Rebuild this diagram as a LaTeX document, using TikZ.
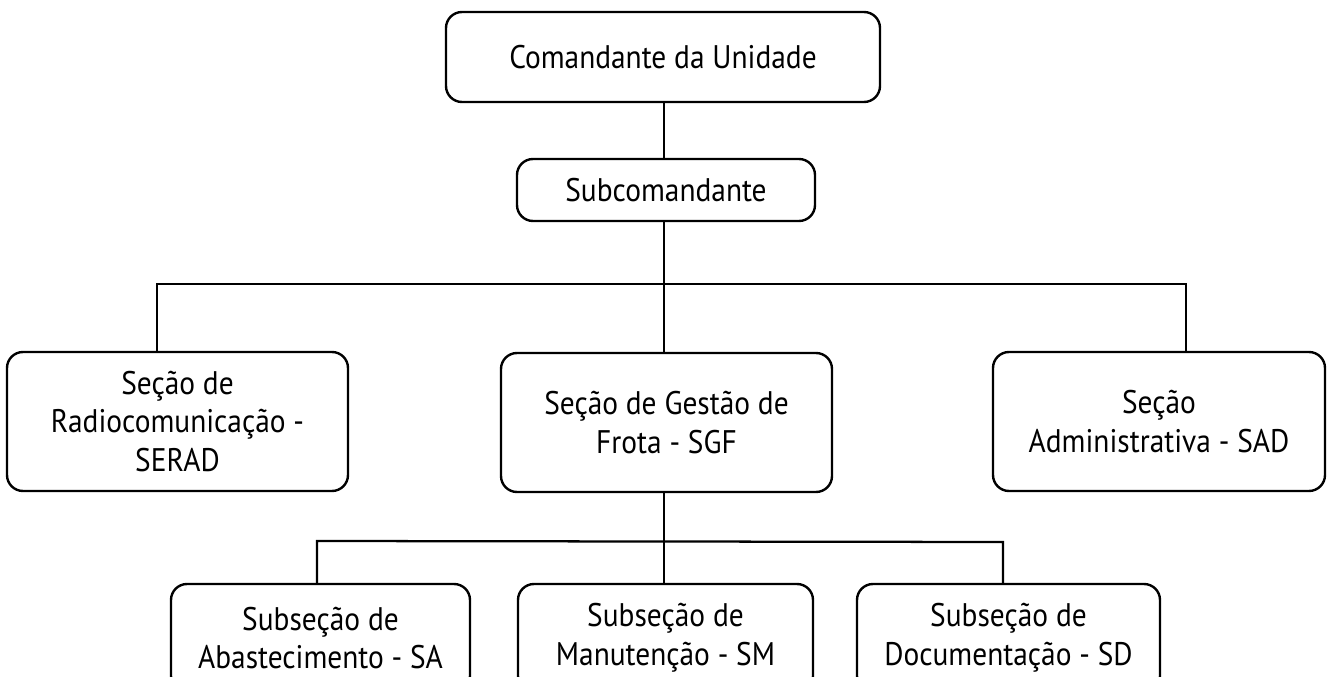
\documentclass[tikz,border=0pt]{standalone}
\usepackage{fontspec}
\setmainfont[FakeStretch=0.9]{PT Sans}
\begin{document}
\begin{tikzpicture}[x=0.75pt,y=-0.75pt,
  box/.style={draw, line width=1.8pt, rounded corners=12pt, align=center,
    inner sep=0pt, font=\fontsize{24.5pt}{29pt}\selectfont},
  link/.style={draw, line width=1.7pt}]
\useasboundingbox (0,0) rectangle (1329,677);
\clip (0,0) rectangle (1329,677);
\node[box, minimum width={434*0.75pt}, minimum height={90*0.75pt}] (top) at (663,57) {Comandante da Unidade};
\node[box, minimum width={298*0.75pt}, minimum height={62*0.75pt}] (sub) at (666,190) {Subcomandante};
\node[box, minimum width={341*0.75pt}, minimum height={139*0.75pt}] (serad) at (177.5,421.5) {Seção de\\Radiocomunicação -\\SERAD};
\node[box, minimum width={331*0.75pt}, minimum height={139*0.75pt}] (sgf) at (666.5,422.5) {Seção de Gestão de\\Frota - SGF};
\node[box, minimum width={332*0.75pt}, minimum height={139*0.75pt}] (sad) at (1159,421.5) {Seção\\Administrativa - SAD};
\node[box, minimum width={299*0.75pt}, minimum height={108*0.75pt}] (sa) at (320.5,638) {Subseção de\\Abastecimento - SA};
\node[box, minimum width={295*0.75pt}, minimum height={108*0.75pt}] (sm) at (665.5,638) {Subseção de\\Manutenção - SM};
\node[box, minimum width={303*0.75pt}, minimum height={108*0.75pt}] (sd) at (1008.5,638) {Subseção de\\Documentação - SD};
\coordinate (vx) at (664,0);
\coordinate (barL) at (157,284);
\coordinate (barR) at (1186,284);
\coordinate (bar2L) at (317,541);
\coordinate (bar2R) at (1003,542);
\draw[link] (top.south -| vx) -- (sub.north -| vx);
\draw[link] (sub.south -| vx) -- (sgf.north -| vx);
\draw[link] (serad.north -| barL) -- (barL) -- (barR) -- (sad.north -| barR);
\draw[link] (sgf.south -| vx) -- (sm.north -| vx);
\draw[link] (sa.north -| bar2L) -- (bar2L) -- (bar2R) -- (sd.north -| bar2R);
\end{tikzpicture}
\end{document}
